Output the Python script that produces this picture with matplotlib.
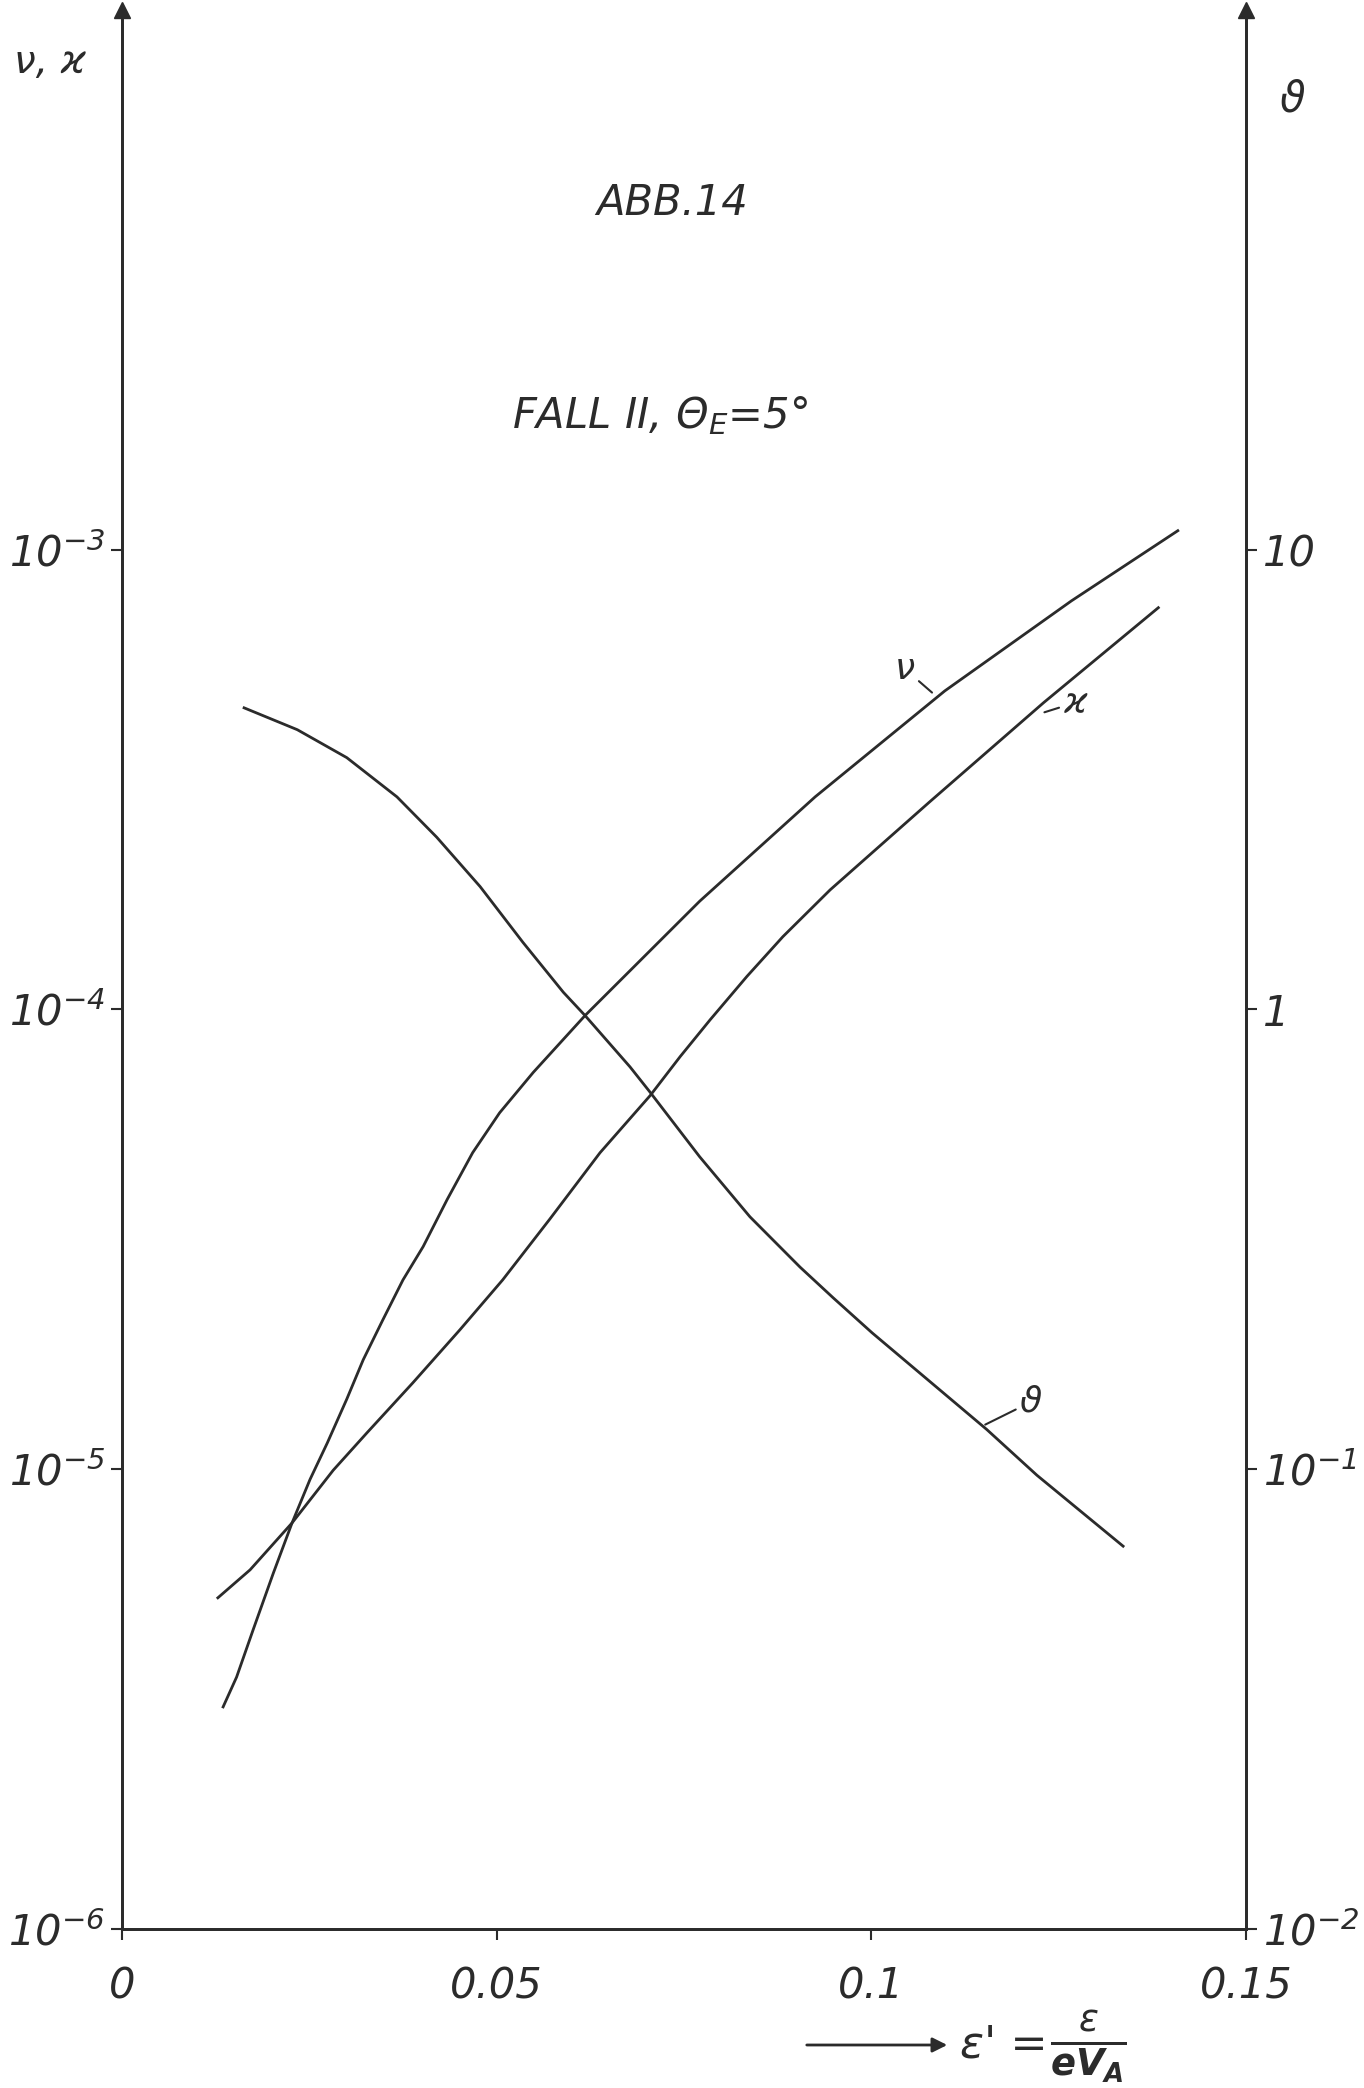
import matplotlib
matplotlib.use("Agg")
import matplotlib.pyplot as plt
import matplotlib.ticker as ticker
from matplotlib.patches import FancyArrowPatch

plt.rcParams["font.family"] = ["DejaVu Sans"]
plt.rcParams["font.style"] = "italic"
plt.rcParams["mathtext.fontset"] = "custom"
plt.rcParams["mathtext.rm"] = "DejaVu Sans:italic"
plt.rcParams["mathtext.it"] = "DejaVu Sans:italic"
plt.rcParams["mathtext.bf"] = "DejaVu Sans:italic:bold"

INK = "#2b2b2b"

# theta (right axis, log)
eps_theta = [0.0163, 0.0234, 0.0300, 0.0367, 0.0420, 0.0478, 0.0535, 0.0589, 0.0618,
             0.0678, 0.0705, 0.0771, 0.0838, 0.0905, 0.0949, 0.1001, 0.1154, 0.1221,
             0.1336]
theta = [4.53, 4.06, 3.53, 2.90, 2.37, 1.85, 1.40, 1.09, 0.97,
         0.75, 0.66, 0.478, 0.354, 0.275, 0.236, 0.198, 0.122, 0.097,
         0.068]

# nu (left axis, log)
eps_nu = [0.0135, 0.0153, 0.0175, 0.0202, 0.0227, 0.0251, 0.0274, 0.0300, 0.0322,
          0.0348, 0.0375, 0.0402, 0.0434, 0.0468, 0.0504, 0.0549, 0.0618, 0.0771,
          0.0925, 0.1098, 0.1267, 0.1409]
nu = [3.04e-6, 3.53e-6, 4.47e-6, 5.94e-6, 7.64e-6, 9.5e-6, 1.14e-5, 1.42e-5, 1.73e-5,
      2.11e-5, 2.58e-5, 3.05e-5, 3.86e-5, 4.88e-5, 5.96e-5, 7.3e-5, 9.7e-5, 1.72e-4,
      2.90e-4, 4.93e-4, 7.74e-4, 1.10e-3]

# kappa (left axis, log)
eps_kappa = [0.0128, 0.0171, 0.0227, 0.0282, 0.0327, 0.0388, 0.0451, 0.0508, 0.0571,
             0.0638, 0.0705, 0.0745, 0.0785, 0.0834, 0.0882, 0.0945, 0.1078, 0.1230,
             0.1383]
kappa = [5.25e-6, 6.04e-6, 7.64e-6, 9.95e-6, 1.20e-5, 1.54e-5, 2.01e-5, 2.58e-5, 3.5e-5,
         4.88e-5, 6.5e-5, 7.9e-5, 9.5e-5, 1.18e-4, 1.44e-4, 1.82e-4, 2.83e-4, 4.65e-4,
         7.48e-4]

x_ticks = [0, 0.05, 0.1, 0.15]
x_ticklabels = ["0", "0.05", "0.1", "0.15"]
left_ticks = [1e-6, 1e-5, 1e-4, 1e-3]
left_ticklabels = [r"$10^{-6}$", r"$10^{-5}$", r"$10^{-4}$", r"$10^{-3}$"]
right_ticks = [1e-2, 1e-1, 1, 10]
right_ticklabels = [r"$10^{-2}$", r"$10^{-1}$", "1", "10"]

fig = plt.figure(figsize=(13.64, 20.88), dpi=100)
ax = fig.add_axes([0.0894, 0.0762, 0.8241, 0.919])
ax2 = ax.twinx()

for a in (ax, ax2):
    a.set_yscale("log")
    a.spines["top"].set_visible(False)
    for s in a.spines.values():
        s.set_linewidth(2.0)
        s.set_color(INK)
    a.yaxis.set_minor_locator(ticker.NullLocator())

ax.set_xlim(0, 0.15)
ax.set_ylim(1e-6, 10 ** -1.826)
ax2.set_ylim(1e-2, 10 ** 2.174)

ax.plot(eps_nu, nu, color=INK, lw=2.0)
ax.plot(eps_kappa, kappa, color=INK, lw=2.0)
ax2.plot(eps_theta, theta, color=INK, lw=2.0)

ax.set_xticks(x_ticks)
ax.set_xticklabels(x_ticklabels)
ax.set_yticks(left_ticks)
ax.set_yticklabels(left_ticklabels)
ax2.set_yticks(right_ticks)
ax2.set_yticklabels(right_ticklabels)
ax.tick_params(axis="x", direction="out", length=8, width=1.5, color=INK,
               labelsize=30, pad=18, labelcolor=INK)
ax.tick_params(axis="y", direction="out", length=8, width=1.5, color=INK,
               labelsize=30, pad=4, labelcolor=INK)
ax2.tick_params(axis="y", direction="out", length=8, width=1.5, color=INK,
                labelsize=30, pad=4, labelcolor=INK)

# arrow heads on the two vertical axes
ax.plot([0, 1], [1, 1], transform=ax.transAxes, ls="none", marker="^",
        ms=11, color=INK, clip_on=False)

# curve labels with short leader strokes
leader = dict(arrowstyle="-", color=INK, lw=1.5, shrinkA=1, shrinkB=0)
ax.annotate("ν", xy=(0.1081, 4.89e-4), xytext=(0.1045, 5.5e-4), fontsize=26,
            color=INK, ha="center", va="center", arrowprops=leader)
ax.annotate("ϰ", xy=(0.1231, 4.43e-4), xytext=(0.1272, 4.65e-4), fontsize=26,
            color=INK, ha="center", va="center", arrowprops=leader)
ax2.annotate("ϑ", xy=(0.1152, 0.125), xytext=(0.1213, 0.140), fontsize=26,
             color=INK, ha="center", va="center", arrowprops=leader)

# titles inside the plot
fig.text(672 / 1364, 1 - 203 / 2088, "ABB.14", fontsize=30, color=INK,
         ha="center", va="center")
fig.text(660 / 1364, 1 - 416 / 2088, r"FALL II, $\Theta_E$=5°", fontsize=30,
         color=INK, ha="center", va="center")

# axis names
fig.text(50 / 1364, 1 - 62 / 2088, "ν, ϰ", fontsize=28, color=INK,
         ha="center", va="center")
fig.text(1292 / 1364, 1 - 100 / 2088, "ϑ", fontsize=30, color=INK,
         ha="center", va="center")

# x axis name with arrow
fig.add_artist(FancyArrowPatch(
    (804 / 1364, 43 / 2088), (950 / 1364, 43 / 2088), transform=fig.transFigure,
    arrowstyle="-|>", mutation_scale=22, color=INK, lw=2.0))
fig.text(960 / 1364, 43 / 2088, "ε' =", fontsize=32, color=INK,
         ha="left", va="center")
fig.text(1050 / 1364, 41 / 2088, r"$\frac{\varepsilon}{\mathbf{e V_A}}$",
         fontsize=38, color=INK, ha="left", va="center")

fig.savefig("out.png", dpi=100)
